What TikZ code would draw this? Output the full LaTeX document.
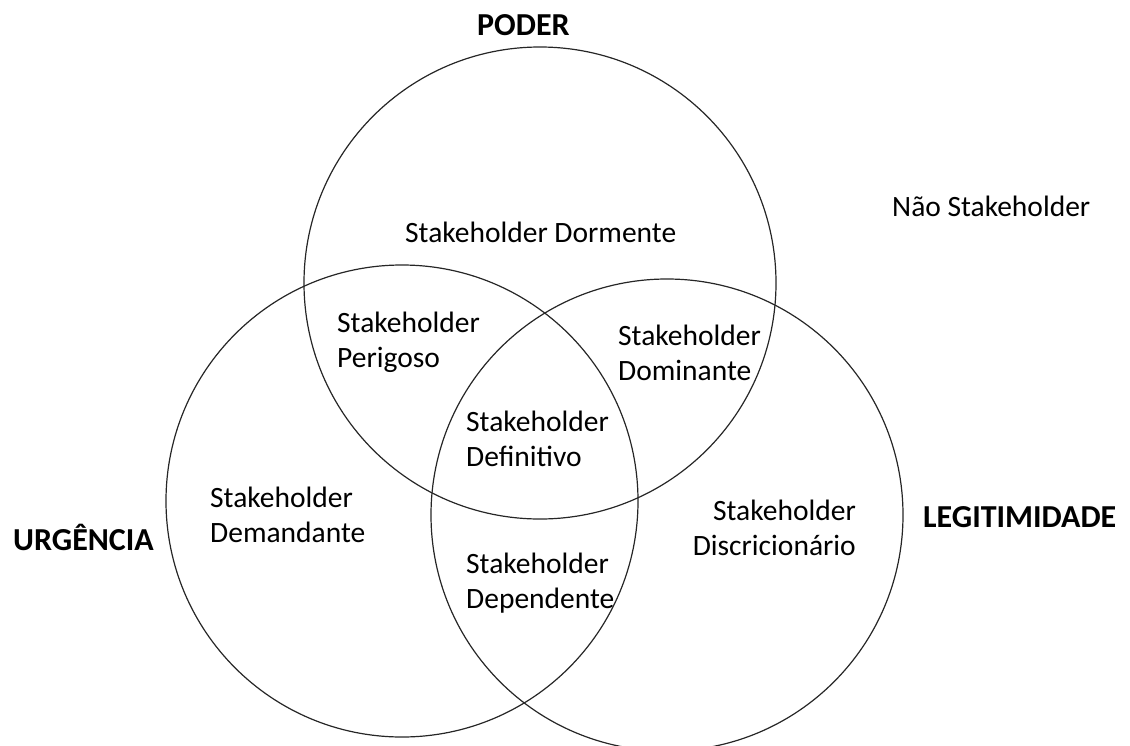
\documentclass[tikz,border=0pt]{standalone}
\usepackage{fontspec}
\setmainfont{Carlito}
\usetikzlibrary{positioning}

\begin{document}
\begin{tikzpicture}[x=1pt,y=-1pt,
    conjunto/.style={circle,draw=black!85,line width=1.2pt,minimum size=472pt,inner sep=0pt},
    rotulo/.style={font=\fontsize{32}{38}\selectfont\bfseries,inner sep=0pt},
    tipo/.style={font=\fontsize{29.5}{35}\selectfont,inner sep=0pt}]
    \useasboundingbox (0,0) rectangle (1130,745);
	\node[conjunto] (poder) at (540,283) {};
	\node[conjunto] (urgencia) at (402,501) {};
	\node[conjunto] (legitimidade) at (667,515) {};
    \node[rotulo,anchor=base west] (lpoder) at (477,35) {PODER};
    \node[rotulo,anchor=base west] (lurgencia) at (13,550) {URGÊNCIA};
    \node[rotulo,anchor=base west] (llegitimidade) at (923,527) {LEGITIMIDADE};
    \node[tipo,anchor=base west] (nao) at (892,216) {Não Stakeholder};
    \node[tipo,anchor=base west] (dormente) at (405,242) {Stakeholder Dormente};
    \node[tipo,anchor=base west,align=left] (perigoso) at (337,367) {Stakeholder\\Perigoso};
    \node[tipo,anchor=base west,align=left] (dominante) at (618,380) {Stakeholder\\Dominante};
    \node[tipo,anchor=base west,align=left] (definitivo) at (466,466) {Stakeholder\\Definitivo};
    \node[tipo,anchor=base west,align=left] (demandante) at (210,542) {Stakeholder\\Demandante};
    \node[tipo,anchor=base east,align=right] (discricionario) at (856,555) {Stakeholder\\Discricionário};
    \node[tipo,anchor=base west,align=left] (dependente) at (466,608) {Stakeholder\\Dependente};
\end{tikzpicture}
\end{document}
